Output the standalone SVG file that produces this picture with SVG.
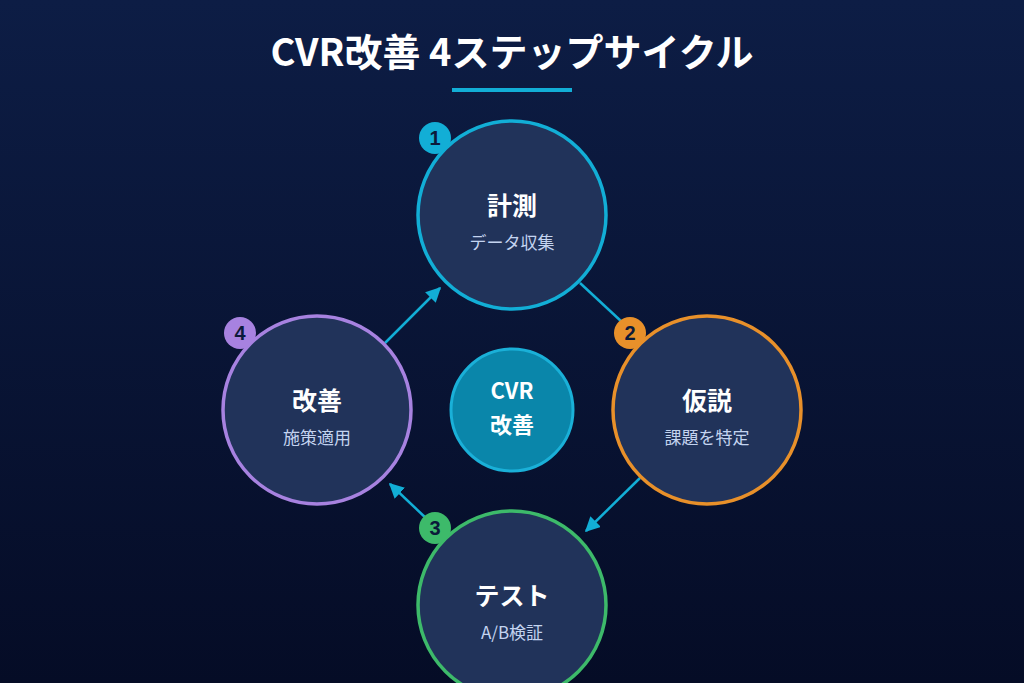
<svg xmlns="http://www.w3.org/2000/svg" width="1024" height="683" viewBox="0 0 1024 683">
<defs>
<linearGradient id="bg" x1="0" y1="0" x2="0" y2="1"><stop offset="0" stop-color="#0d1d45"/><stop offset="1" stop-color="#050c26"/></linearGradient>
<marker id="ah" viewBox="0 0 10 10" refX="9" refY="5" markerWidth="6" markerHeight="6" orient="auto"><path d="M0,0L10,5L0,10z" fill="#12aed6"/></marker>
<style>
.n{fill:#21335a;stroke-width:3.5}
.t{font-family:"Noto Sans CJK JP",sans-serif;font-weight:700;fill:#fff;text-anchor:middle}
.s{font-family:"Noto Sans CJK JP",sans-serif;font-size:17px;fill:#c4d4f0;text-anchor:middle}
.b{font-family:"Liberation Sans",sans-serif;font-weight:700;font-size:20px;fill:#0b1a3a;text-anchor:middle}
.c{stroke:#12aed6;stroke-width:2.5;fill:none}
</style>
</defs>
<rect width="1024" height="683" fill="url(#bg)"/>
<text x="512" y="66" class="t" font-size="38">CVR改善 4ステップサイクル</text>
<rect x="452" y="88" width="120" height="4" fill="#12aed6"/>
<g id="connectors">
<line x1="580" y1="283" x2="622" y2="322" class="c"/>
<line x1="640" y1="478" x2="586" y2="531" class="c" marker-end="url(#ah)"/>
<line x1="428" y1="520" x2="390" y2="484" class="c" marker-end="url(#ah)"/>
<line x1="385" y1="343" x2="440" y2="288" class="c" marker-end="url(#ah)"/>
</g>
<g id="center"><circle cx="512" cy="410" r="61" fill="#0a86aa" stroke="#1ab0d8" stroke-width="3"/>
<text x="512" y="399" class="t" font-size="22">CVR</text><text x="512" y="433" class="t" font-size="22">改善</text></g>
<g id="step1"><circle cx="512" cy="215" r="94" class="n" stroke="#12aed6"/>
<text x="512" y="215" class="t" font-size="25">計測</text><text x="512" y="249" class="s">データ収集</text>
<circle cx="435" cy="138" r="16" fill="#12aed6"/><text x="435" y="145" class="b">1</text></g>
<g id="step2"><circle cx="707" cy="410" r="94" class="n" stroke="#e8902a"/>
<text x="707" y="410" class="t" font-size="25">仮説</text><text x="707" y="444" class="s">課題を特定</text>
<circle cx="630" cy="333" r="16" fill="#e8902a"/><text x="630" y="340" class="b">2</text></g>
<g id="step3"><circle cx="512" cy="605" r="94" class="n" stroke="#3dba6a"/>
<text x="512" y="605" class="t" font-size="25">テスト</text><text x="512" y="639" class="s">A/B検証</text>
<circle cx="435" cy="528" r="16" fill="#3dba6a"/><text x="435" y="535" class="b">3</text></g>
<g id="step4"><circle cx="317" cy="410" r="94" class="n" stroke="#a782e0"/>
<text x="317" y="410" class="t" font-size="25">改善</text><text x="317" y="444" class="s">施策適用</text>
<circle cx="240" cy="333" r="16" fill="#a782e0"/><text x="240" y="340" class="b">4</text></g>
</svg>
